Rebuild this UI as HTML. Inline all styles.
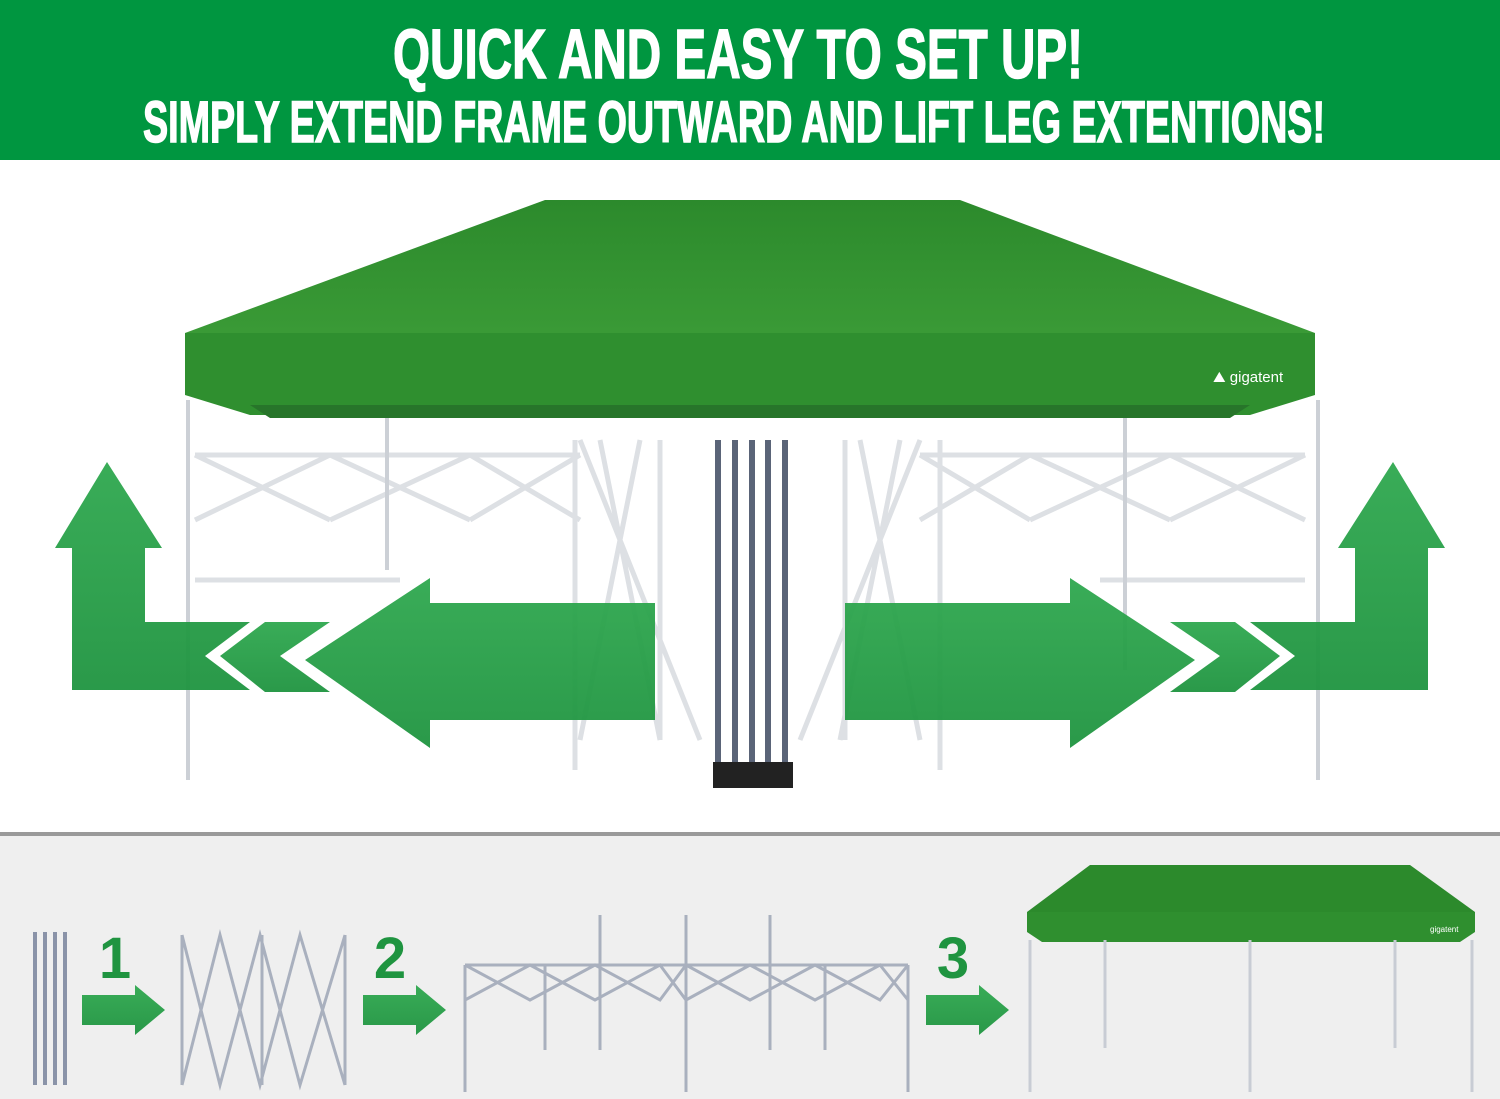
<!DOCTYPE html>
<html><head><meta charset="utf-8"><style>
html,body{margin:0;padding:0;background:#fff}
svg{display:block}
</style></head><body>
<svg width="1500" height="1099" viewBox="0 0 1500 1099" xmlns="http://www.w3.org/2000/svg">
<defs>
<linearGradient id="ag" x1="0" y1="0" x2="0" y2="1">
<stop offset="0" stop-color="#2fa84f" stop-opacity="0.95"/>
<stop offset="1" stop-color="#1f9440" stop-opacity="0.95"/>
</linearGradient>
<linearGradient id="can" x1="0" y1="0" x2="0" y2="1">
<stop offset="0" stop-color="#2c8a2c"/><stop offset="1" stop-color="#3a9a36"/>
</linearGradient>
</defs>
<rect width="1500" height="160" fill="#009640"/>
<text x="738" y="78" fill="#fff" stroke="#fff" stroke-width="1.5" font-family="Liberation Sans Narrow, Liberation Sans, sans-serif" font-weight="bold" font-size="70" text-anchor="middle" textLength="690" lengthAdjust="spacingAndGlyphs">QUICK AND EASY TO SET UP!</text>
<text x="734" y="142" fill="#fff" stroke="#fff" stroke-width="1.5" font-family="Liberation Sans Narrow, Liberation Sans, sans-serif" font-weight="bold" font-size="58" text-anchor="middle" textLength="1182" lengthAdjust="spacingAndGlyphs">SIMPLY EXTEND FRAME OUTWARD AND LIFT LEG EXTENTIONS!</text>

<!-- frames -->
<g stroke="#dde0e4" stroke-width="5" fill="none">
<path d="M195 455 L330 520 M195 520 L330 455 M330 455 L470 520 M330 520 L470 455 M470 455 L580 520 M470 520 L580 455"/>
<path d="M1305 455 L1170 520 M1305 520 L1170 455 M1170 455 L1030 520 M1170 520 L1030 455 M1030 455 L920 520 M1030 520 L920 455"/>
<path d="M195 455 H580 M195 580 H400 M1305 455 H920 M1305 580 H1100"/>
<path d="M580 440 L700 740 M600 440 L660 740 M640 440 L580 740 M920 440 L800 740 M900 440 L840 740 M860 440 L920 740"/>
<path d="M575 440 V770 M940 440 V770 M660 440 V740 M845 440 V740"/>
</g>
<g stroke="#ccd0d6" stroke-width="4">
<path d="M188 400 V780 M1318 400 V780 M387 410 V570 M1125 410 V670"/>
</g>
<!-- folded center -->
<g stroke="#5a6478" stroke-width="6">
<path d="M718 440 V780 M735 440 V780 M752 440 V780 M768 440 V780 M785 440 V780"/>
</g>
<rect x="713" y="762" width="80" height="26" fill="#222"/>
<!-- canopy -->
<path d="M545 200 H960 L1315 333 H185 Z" fill="url(#can)"/>
<path d="M185 333 H1315 V395 L1250 415 H250 L185 395 Z" fill="#2f8f2f"/>
<path d="M250 405 H1250 L1230 418 H270 Z" fill="#27752a"/>
<text x="1213" y="382" fill="#fff" font-family="Liberation Sans, sans-serif" font-size="15">⛰ gigatent</text>

<!-- arrows -->
<g fill="url(#ag)">
<path d="M107 462 L162 548 H145 V622 H250 L205 656 L250 690 H72 V548 H55 Z"/>
<path d="M265 622 H330 L280 656 L330 692 H265 L220 656 Z"/>
<path d="M305 660 L430 578 V603 H655 V720 H430 V748 Z"/>
<path d="M1393 462 L1338 548 H1355 V622 H1250 L1295 656 L1250 690 H1428 V548 H1445 Z"/>
<path d="M1235 622 H1170 L1220 656 L1170 692 H1235 L1280 656 Z"/>
<path d="M1195 660 L1070 578 V603 H845 V720 H1070 V748 Z"/>
</g>

<!-- bottom -->
<rect x="0" y="832" width="1500" height="4" fill="#9a9a9a"/>
<rect x="0" y="836" width="1500" height="263" fill="#efefef"/>
<g stroke="#8a93a8" stroke-width="4">
<path d="M35 932 V1085 M45 932 V1085 M55 932 V1085 M65 932 V1085"/>
</g>
<g stroke="#a9b0be" stroke-width="3" fill="none">
<path d="M182 935 L220 1085 L260 935 L300 1085 L345 935 M182 1085 L220 935 L260 1085 L300 935 L345 1085 M182 935 V1085 M345 935 V1085 M262 935 V1085"/>
<path d="M465 965 L530 1000 L595 965 L660 1000 L686 965 L750 1000 L815 965 L880 1000 L908 965 M465 1000 L530 965 L595 1000 L660 965 L686 1000 L750 965 L815 1000 L880 965 L908 1000 M465 965 H908"/>
<path d="M465 965 V1092 M908 965 V1092 M686 915 V1092 M600 915 V1050 M770 915 V1050 M545 965 V1050 M825 965 V1050"/>
</g>
<g font-family="Liberation Sans, sans-serif" font-weight="bold" font-size="58" fill="#1f9440" text-anchor="middle">
<text x="115" y="978">1</text><text x="390" y="978">2</text><text x="953" y="978">3</text>
</g>
<g fill="url(#ag)">
<path d="M82 995 H135 V985 L165 1010 L135 1035 V1025 H82 Z"/>
<path d="M363 995 H416 V985 L446 1010 L416 1035 V1025 H363 Z"/>
<path d="M926 995 H979 V985 L1009 1010 L979 1035 V1025 H926 Z"/>
</g>
<path d="M1090 865 H1410 L1475 912 H1027 Z" fill="#2c8a2c"/>
<path d="M1027 912 H1475 V932 L1460 942 H1042 L1027 932 Z" fill="#2f8f2f"/>
<text x="1430" y="932" fill="#fff" font-family="Liberation Sans, sans-serif" font-size="8">gigatent</text>
<g stroke="#c8ccd4" stroke-width="3">
<path d="M1030 940 V1092 M1472 940 V1092 M1250 940 V1092 M1105 940 V1048 M1395 940 V1048"/>
</g>
</svg>
</body></html>
